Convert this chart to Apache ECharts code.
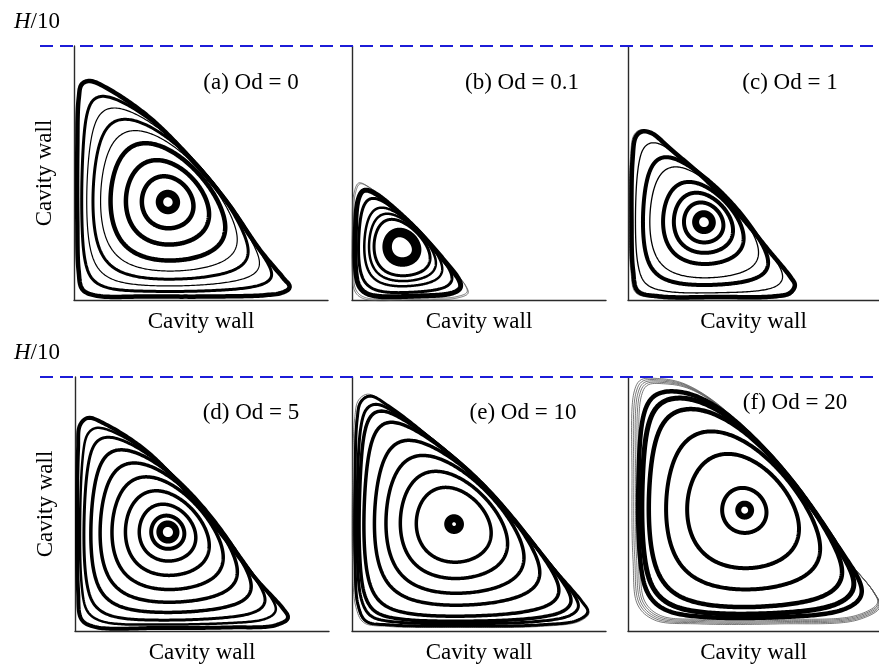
<!DOCTYPE html>
<html>
<head>
<meta charset="utf-8">
<script src="https://cdn.jsdelivr.net/npm/echarts@6/dist/echarts.min.js"></script>
<style>
  html, body { margin: 0; padding: 0; background: #fff; }
  #chart { width: 879px; height: 666px; }
</style>
</head>
<body>
<div id="chart"></div>
<script>
// Streamlines of the corner vortex in a cavity for six Oldroyd numbers.
// Coordinates are percent of the cavity width (x) and of H/10 (y).

const panelTitles = ['(a) Od = 0', '(b) Od = 0.1', '(c) Od = 1', '(d) Od = 5', '(e) Od = 10', '(f) Od = 20'];
const wallName = 'Cavity wall';

// vortex centre of each panel
const centreA = [37.0, 38.6];
const centreB = [19.7, 20.9];
const centreC = [30.3, 30.7];
const centreD = [36.6, 39.0];
const centreE = [40.2, 42.1];
const centreF = [46.5, 47.6];

// outermost closed streamline, traced counter-clockwise from the right tip
const outerA = [[85.0,5.1],[82.7,8.3],[73.2,19.7],[60.2,38.6],[45.7,55.9],[29.9,71.7],[14.2,82.7],[6.3,86.2],[3.1,85.0],[1.8,78.7],[1.3,59.1],[1.3,31.5],[1.8,11.8],[3.3,4.2],[8.3,1.8],[29.9,1.4],[57.5,1.4],[75.2,1.9],[82.3,3.0]];
const outerB = [[45.3,3.1],[44.5,5.9],[36.6,15.0],[26.0,26.8],[15.0,37.4],[7.1,44.1],[3.1,45.7],[1.2,41.3],[0.6,27.6],[0.6,11.8],[1.6,3.9],[5.1,1.0],[26.8,0.8],[40.6,1.2]];
const outerC = [[66.5,5.9],[65.0,8.7],[55.9,19.7],[44.1,33.9],[30.3,48.0],[17.3,59.1],[9.4,65.7],[5.5,66.3],[3.1,64.2],[1.8,55.1],[1.4,31.5],[2.0,11.8],[3.9,3.5],[12.6,1.4],[36.2,1.2],[57.9,1.4],[64.6,2.8]];
const outerD = [[83.9,5.1],[82.3,8.3],[70.9,20.9],[57.9,37.8],[43.3,55.5],[27.6,71.3],[11.8,81.5],[5.1,83.9],[2.0,81.1],[1.2,71.3],[0.8,43.7],[1.2,16.1],[2.6,4.5],[7.9,1.6],[33.5,1.2],[61.0,1.4],[78.7,2.2]];
const outerE = [[92.9,7.5],[91.3,10.6],[79.9,24.0],[64.6,42.1],[48.4,60.2],[30.7,76.0],[15.0,88.2],[7.1,92.5],[3.5,90.2],[2.0,83.1],[1.2,59.4],[1.2,28.0],[2.4,10.2],[5.5,3.9],[15.0,2.4],[42.5,2.0],[74.0,2.4],[89.0,4.3]];
const outerF = [[100.5,9.5],[98.5,14.5],[87.4,28.0],[73.2,47.6],[55.9,69.3],[36.2,89.0],[22.0,97.5],[12.0,99.4],[5.0,98.8],[2.4,94.0],[1.6,59.4],[2.0,28.0],[3.9,10.2],[10.6,4.3],[28.3,2.8],[59.8,2.8],[91.3,4.3]];

// streamline levels (1 = outermost) with pen widths
const levelsA = [1.0, 0.93, 0.86, 0.78, 0.69, 0.58, 0.42, 0.26, 0.085];
const widthsA = [4.5, 3, 1.2, 3, 1.2, 4.5, 4.5, 4.5, 7.5];
const levelsB = [0.95, 0.86, 0.73, 0.63, 0.53, 0.28];
const widthsB = [5, 3, 2.5, 2.5, 3, 9.5];
const levelsC = [1.0, 0.93, 0.81, 0.71, 0.53, 0.39, 0.26, 0.11];
const widthsC = [4.5, 1.3, 4, 1.3, 4, 4, 4, 7];
const levelsD = [1.0, 0.955, 0.9, 0.81, 0.7, 0.57, 0.43, 0.29, 0.17, 0.085];
const widthsD = [4, 2.5, 3, 3.5, 3.5, 3.5, 3.5, 3.5, 4, 6.5];
const levelsE = [1.0, 0.97, 0.94, 0.88, 0.76, 0.64, 0.5, 0.35, 0.055];
const widthsE = [3, 3, 3.5, 3.5, 3.5, 3.5, 3.5, 3.5, 8];
const levelsF = [0.93, 0.89, 0.82, 0.66, 0.48, 0.19, 0.055];
const widthsF = [4.5, 5, 4.5, 4, 4, 4, 6];

// faint grey streamlines squeezed against the walls: the outer contour
// spread about a point on its sloping side
const anchorA = [60.2, 38.6];
const anchorB = [26.0, 26.8];
const anchorC = [44.1, 33.9];
const anchorD = [57.9, 37.8];
const anchorE = [64.6, 42.1];
const anchorF = [73.2, 47.6];
const faintA = [];
const faintB = [1.02, 1.0];
const faintC = [1.02];
const faintD = [];
const faintE = [1.015, 1.005];
const faintF = [1.0, 0.99, 0.98, 0.97, 0.96];

const panels = [
  { centre: centreA, outer: outerA, levels: levelsA, widths: widthsA, anchor: anchorA, faint: faintA },
  { centre: centreB, outer: outerB, levels: levelsB, widths: widthsB, anchor: anchorB, faint: faintB },
  { centre: centreC, outer: outerC, levels: levelsC, widths: widthsC, anchor: anchorC, faint: faintC },
  { centre: centreD, outer: outerD, levels: levelsD, widths: widthsD, anchor: anchorD, faint: faintD },
  { centre: centreE, outer: outerE, levels: levelsE, widths: widthsE, anchor: anchorE, faint: faintE },
  { centre: centreF, outer: outerF, levels: levelsF, widths: widthsF, anchor: anchorF, faint: faintF }
];

const N_PTS = 360;   // samples along each streamline
const N_HARM = 60;   // Fourier harmonics kept from the outer contour

// closed centripetal Catmull-Rom through the traced outer points
function densify(pts, steps) {
  const n = pts.length, out = [];
  const lerp = (a, b, ta, tb, t) => {
    const w = (tb - ta) === 0 ? 0 : (t - ta) / (tb - ta);
    return [a[0] + (b[0] - a[0]) * w, a[1] + (b[1] - a[1]) * w];
  };
  const knot = (a, b) => Math.pow(Math.hypot(b[0] - a[0], b[1] - a[1]), 0.5) || 1e-6;
  for (let i = 0; i < n; i++) {
    const p0 = pts[(i - 1 + n) % n], p1 = pts[i], p2 = pts[(i + 1) % n], p3 = pts[(i + 2) % n];
    const t0 = 0, t1 = t0 + knot(p0, p1), t2 = t1 + knot(p1, p2), t3 = t2 + knot(p2, p3);
    for (let k = 0; k < steps; k++) {
      const t = t1 + (t2 - t1) * k / steps;
      const a1 = lerp(p0, p1, t0, t1, t), a2 = lerp(p1, p2, t1, t2, t), a3 = lerp(p2, p3, t2, t3, t);
      const b1 = lerp(a1, a2, t0, t2, t), b2 = lerp(a2, a3, t1, t3, t);
      out.push(lerp(b1, b2, t1, t2, t));
    }
  }
  return out;
}

// resample the closed outer contour evenly by arc length
function evenContour(pts) {
  const d = densify(pts, 30);
  d.push(d[0]);
  const cum = [0];
  for (let i = 1; i < d.length; i++) cum.push(cum[i - 1] + Math.hypot(d[i][0] - d[i - 1][0], d[i][1] - d[i - 1][1]));
  const total = cum[cum.length - 1], out = [];
  let j = 0;
  for (let n = 0; n < N_PTS; n++) {
    const L = total * n / N_PTS;
    while (j < cum.length - 2 && cum[j + 1] < L) j++;
    const w = (L - cum[j]) / ((cum[j + 1] - cum[j]) || 1e-9);
    out.push([d[j][0] + (d[j + 1][0] - d[j][0]) * w, d[j][1] + (d[j + 1][1] - d[j][1]) * w]);
  }
  return out;
}

// complex Fourier descriptors of the contour, k = -N_HARM..N_HARM
function descriptors(z) {
  const co = {};
  for (let k = -N_HARM; k <= N_HARM; k++) {
    let re = 0, im = 0;
    for (let n = 0; n < N_PTS; n++) {
      const t = 2 * Math.PI * n / N_PTS, c = Math.cos(k * t), s = Math.sin(k * t);
      re += z[n][0] * c + z[n][1] * s;
      im += z[n][1] * c - z[n][0] * s;
    }
    co[k] = [re / N_PTS, im / N_PTS];
  }
  return co;
}

// Streamline at level s: outer contour shrunk about the vortex centre,
// its corner harmonics fading so the inner loops relax into ovals.
function streamline(p, co, s) {
  const [cx, cy] = p.centre;
  const q = Math.min(1, s);
  const pts = [];
  for (let n = 0; n < N_PTS; n++) {
    const t = 2 * Math.PI * n / N_PTS;
    let x = q * (co[0][0] - cx), y = q * (co[0][1] - cy);
    for (let k = -N_HARM; k <= N_HARM; k++) {
      if (k === 0) continue;
      const a = Math.abs(k);
      const w = k === 1 ? 1 : (k === -1 ? Math.pow(q, 1.2) : Math.pow(q, 1.5 * (a - 1)));
      const c = Math.cos(k * t), sn = Math.sin(k * t);
      x += w * (co[k][0] * c - co[k][1] * sn);
      y += w * (co[k][0] * sn + co[k][1] * c);
    }
    pts.push([cx + s * x, cy + s * y]);
  }
  return pts;
}

// faint wall streamline: outer contour spread by g about the panel anchor
function wallLine(p, g) {
  const [ax, ay] = p.anchor;
  return evenContour(p.outer).map(([x, y]) => [ax + g * (x - ax), ay + g * (y - ay)]);
}

function curveSeries(gi, pts, width, color) {
  return {
    type: 'custom',
    coordinateSystem: 'cartesian2d',
    xAxisIndex: gi,
    yAxisIndex: gi,
    silent: true,
    animation: false,
    data: pts,
    renderItem: function (params, api) {
      if (params.dataIndex !== 0) return null;
      const px = pts.map(d => api.coord(d));
      return {
        type: 'polygon',
        shape: { points: px },
        style: { fill: 'none', stroke: color, lineWidth: width, lineJoin: 'round' }
      };
    }
  };
}

const gridBoxes = [
  { left: 74, top: 46 }, { left: 352, top: 46 }, { left: 628, top: 46 },
  { left: 75, top: 377 }, { left: 352, top: 377 }, { left: 628, top: 377 }
];

const serif = '"Liberation Serif", "Times New Roman", serif';
const axisLine = { show: true, onZero: false, lineStyle: { color: '#2a2a2a', width: 1.4 } };

const grid = gridBoxes.map(b => ({ left: b.left, top: b.top, width: 254, height: 254 }));
const xAxis = gridBoxes.map((b, i) => ({
  gridIndex: i, type: 'value', min: 0, max: 100,
  axisLine: axisLine, axisTick: { show: false }, axisLabel: { show: false }, splitLine: { show: false },
  name: wallName, nameLocation: 'middle', nameGap: 10,
  nameTextStyle: { fontFamily: serif, fontSize: 23, color: '#000' }
}));
const yAxis = gridBoxes.map((b, i) => ({
  gridIndex: i, type: 'value', min: 0, max: 100,
  axisLine: axisLine, axisTick: { show: false }, axisLabel: { show: false }, splitLine: { show: false },
  name: (i % 3 === 0) ? wallName : '', nameLocation: 'middle', nameGap: 18,
  nameTextStyle: { fontFamily: serif, fontSize: 23, color: '#000' }
}));

const series = [];
panels.forEach((p, gi) => {
  const co = descriptors(evenContour(p.outer));
  p.faint.forEach(g => series.push(curveSeries(gi, wallLine(p, g), 0.8, '#555')));
  p.levels.forEach((s, k) => series.push(curveSeries(gi, streamline(p, co, s), p.widths[k], '#000')));
});

const chart = echarts.init(document.getElementById('chart'), null, { renderer: 'canvas' });
chart.setOption({ animation: false, backgroundColor: '#fff', grid, xAxis, yAxis, series });

// H/10 reference line across each row, plus captions
const titleAt = [[251, 83], [522, 83], [790, 83], [251, 413], [523, 413], [795, 403]];
const graphics = [];
[0, 3].forEach(gi => {
  const y = chart.convertToPixel({ gridIndex: gi }, [0, 100])[1];
  graphics.push({
    type: 'line', silent: true, z: 5,
    shape: { x1: 40, y1: y, x2: 879, y2: y },
    style: { stroke: '#1c1cd8', lineWidth: 2, lineDash: [13, 7] }
  });
  graphics.push({
    type: 'text', silent: true, x: 14, y: y - 24,
    style: {
      text: '{i|H}/10', fontFamily: serif, fontSize: 23, fill: '#000',
      textAlign: 'left', textVerticalAlign: 'middle',
      rich: { i: { fontStyle: 'italic', fontFamily: serif, fontSize: 23 } }
    }
  });
});
panelTitles.forEach((t, i) => {
  graphics.push({
    type: 'text', silent: true, x: titleAt[i][0], y: titleAt[i][1],
    style: { text: t, fontFamily: serif, fontSize: 23, fill: '#000', textAlign: 'center', textVerticalAlign: 'middle' }
  });
});
chart.setOption({ graphic: graphics });
</script>
</body>
</html>
